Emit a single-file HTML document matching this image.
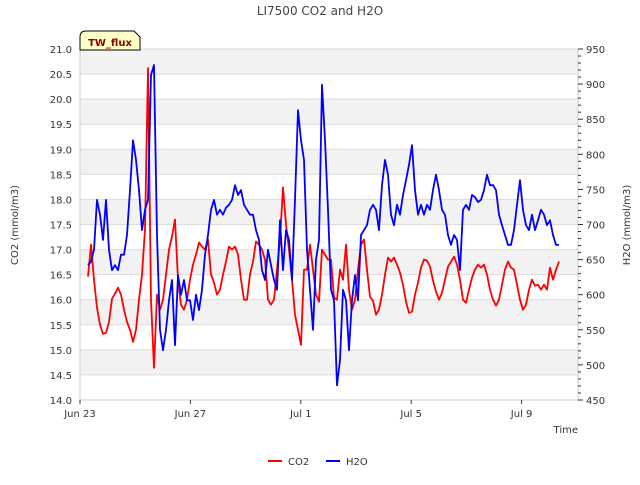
<!DOCTYPE html>
<html><head><meta charset="utf-8"><style>
body{margin:0;background:#fff}
svg text{font-family:"DejaVu Sans","Liberation Sans",sans-serif}
</style></head><body>
<svg id="chart" width="640" height="480" xmlns="http://www.w3.org/2000/svg">
<text x="320" y="15" text-anchor="middle" font-size="12" fill="#444">LI7500 CO2 and H2O</text>
<g id="bands"></g>
<g id="axes"></g>
<g id="series"></g>
<g>
<path d="M80,50 L80,37 Q80,31 86,31 L134,31 L140,37 L140,50 Z" fill="#ffffc8" stroke="#000" stroke-width="1"/>
<text x="110" y="46" text-anchor="middle" font-size="10" font-weight="bold" fill="#8b0000">TW_flux</text>
</g>
<text transform="translate(18,225) rotate(-90)" text-anchor="middle" font-size="10" fill="#333">CO2 (mmol/m3)</text>
<text transform="translate(630,225) rotate(-90)" text-anchor="middle" font-size="10" fill="#333">H2O (mmol/m3)</text>
<text x="578" y="433" text-anchor="end" font-size="10" fill="#333">Time</text>
<g>
<line x1="268" y1="461" x2="282" y2="461" stroke="#f00" stroke-width="2"/>
<text x="288" y="465" font-size="10" fill="#333">CO2</text>
<line x1="326" y1="461" x2="340" y2="461" stroke="#00f" stroke-width="2"/>
<text x="346" y="465" font-size="10" fill="#333">H2O</text>
</g>
</svg>
<script>
const xTickLabels=["Jun 23","Jun 27","Jul 1","Jul 5","Jul 9"];
const xTickDays=[0,4,8,12,16];
const leftTicks=[14,14.5,15,15.5,16,16.5,17,17.5,18,18.5,19,19.5,20,20.5,21];
const rightTicks=[450,500,550,600,650,700,750,800,850,900,950];
const startDay=0.29;
const stepDay=3/27.6;
const co2=[16.46,17.1,16.4,15.84,15.5,15.32,15.34,15.56,16.02,16.12,16.24,16.1,15.8,15.56,15.4,15.16,15.4,16.0,16.5,17.4,20.62,16.0,14.64,16.1,15.8,16.0,16.5,17.0,17.26,17.6,16.4,15.9,15.8,16.0,16.4,16.7,16.9,17.14,17.06,17.0,17.2,16.5,16.34,16.1,16.2,16.5,16.76,17.06,17.0,17.06,16.9,16.4,16.0,16.0,16.5,16.76,17.16,17.1,17.0,16.8,16.0,15.9,16.0,16.6,17.2,18.24,17.5,17.0,16.4,15.7,15.4,15.1,16.6,16.6,17.1,16.6,16.1,15.96,17.0,16.9,16.8,16.8,16.04,16.0,16.6,16.4,17.1,16.2,15.8,16.0,16.6,17.1,17.2,16.6,16.06,15.98,15.7,15.8,16.1,16.5,16.84,16.76,16.84,16.7,16.54,16.3,15.96,15.74,15.76,16.1,16.34,16.64,16.8,16.78,16.66,16.38,16.16,16.0,16.14,16.4,16.66,16.76,16.86,16.7,16.4,16.0,15.94,16.2,16.44,16.6,16.7,16.64,16.7,16.5,16.2,16.0,15.88,16.0,16.3,16.6,16.76,16.64,16.6,16.3,16.0,15.8,15.9,16.2,16.4,16.28,16.3,16.2,16.3,16.2,16.64,16.4,16.6,16.76];
const h2o=[642,647,664,735,714,678,735,664,635,642,635,657,657,685,749,820,792,749,692,721,735,913,927,685,550,521,550,592,621,528,628,600,621,592,592,564,600,578,607,657,685,721,735,714,721,714,724,728,735,756,742,749,728,721,714,714,692,678,635,621,664,642,621,607,706,635,692,678,621,735,863,820,792,664,607,550,650,678,899,820,721,607,592,471,507,607,592,521,592,628,592,685,692,699,721,728,721,692,756,792,771,714,699,728,714,742,763,785,813,749,714,728,714,728,721,749,771,749,721,714,685,671,685,678,635,721,728,721,742,739,732,735,749,771,756,756,749,714,699,685,671,671,692,728,763,721,699,692,714,692,706,721,714,699,706,685,671,671];
const L=80,R=578,T=49,B=400,dayPx=27.6;
const xs=d=>L+d*dayPx;
const yL=v=>B-(v-14)/7*(B-T);
const yR=v=>B-(v-450)/500*(B-T);
const NS="http://www.w3.org/2000/svg";
function mk(tag,parent,attrs){const e=document.createElementNS(NS,tag);for(const k in attrs)e.setAttribute(k,attrs[k]);parent.appendChild(e);return e;}
const bands=document.getElementById('bands'),axes=document.getElementById('axes'),series=document.getElementById('series');
mk('rect',bands,{x:L,y:T,width:R-L,height:B-T,fill:'#fff'});
for(let v=14;v<21;v+=1){
  const b=mk('rect',bands,{x:L,y:yL(v+1),width:R-L,height:yL(v+0.5)-yL(v+1),fill:'#f2f2f2'});
  
  
}
leftTicks.forEach(v=>{
  const g=mk('line',axes,{x1:L,x2:R,y1:yL(v),y2:yL(v),stroke:'#dcdcdc','stroke-width':1});
  
  
  const t=mk('text',axes,{x:L-8,y:yL(v)+4,'text-anchor':'end','font-size':10,fill:'#333'});
  t.textContent=v.toFixed(1);
  
  
});
mk('line',axes,{x1:L,x2:L,y1:T,y2:B,stroke:'#ccc'});
mk('line',axes,{x1:L,x2:R,y1:B,y2:B,stroke:'#ccc'});
mk('line',axes,{x1:R,x2:R,y1:T,y2:B,stroke:'#ccc'});
for(let v=450;v<=950;v+=10){
  mk('line',axes,{x1:R,x2:R+(v%50===0?5:3),y1:yR(v),y2:yR(v),stroke:'#333'});
}
rightTicks.forEach(v=>{
  const t=mk('text',axes,{x:R+8,y:yR(v)+4,'font-size':10,fill:'#333'});
  t.textContent=v;
  
  
});
xTickDays.forEach((d,i)=>{
  mk('line',axes,{x1:xs(d),x2:xs(d),y1:B,y2:B+4,stroke:'#333'});
  const t=mk('text',axes,{x:xs(d),y:B+17,'text-anchor':'middle','font-size':10,fill:'#333'});
  t.textContent=xTickLabels[i];
  
  
});
function line(arr,yf,color,name){
  const pts=arr.map((v,i)=>xs(startDay+i*stepDay).toFixed(1)+','+yf(v).toFixed(1)).join(' ');
  const p=mk('polyline',series,{points:pts,fill:'none',stroke:color,'stroke-width':1.8,'stroke-linejoin':'round'});
  
  
}
line(co2,yL,'#f00','co2-line');
line(h2o,yR,'#00f','h2o-line');
</script>
</body></html>
